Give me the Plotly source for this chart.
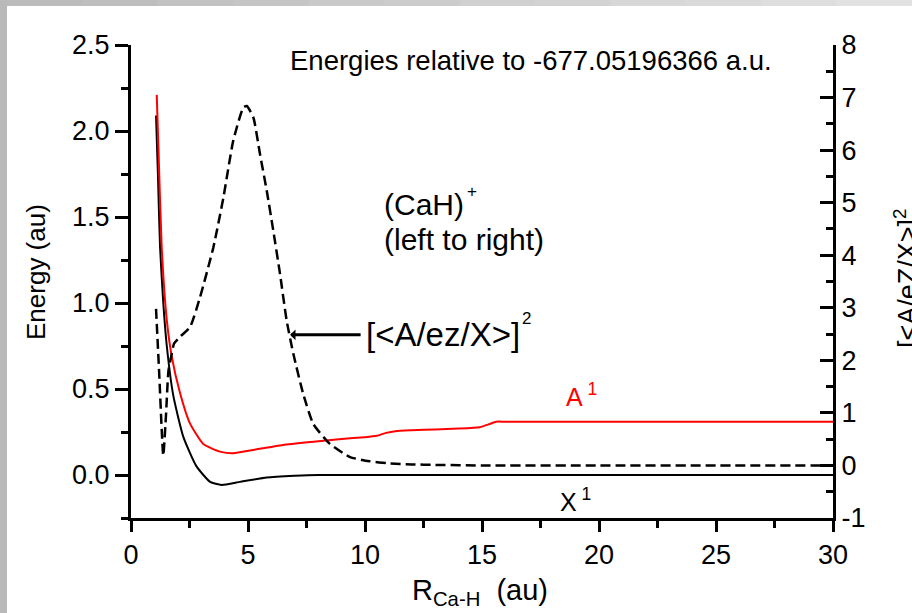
import plotly.graph_objects as go

# ---- data ----
r_A = [1.1, 1.17, 1.31, 1.53, 1.74, 2.09, 2.52, 3.09, 3.8, 4.37, 5.23, 6.5, 7.9, 9.0, 10.0, 10.5, 10.9, 11.3, 12, 13, 14, 14.9, 15.3, 15.6, 16, 20, 25, 30]
e_A = [2.21, 1.91, 1.33, 0.90, 0.69, 0.48, 0.30, 0.18, 0.136, 0.126, 0.146, 0.175, 0.195, 0.21, 0.22, 0.228, 0.245, 0.255, 0.26, 0.265, 0.27, 0.278, 0.295, 0.31, 0.31, 0.31, 0.31, 0.31]

r_X = [1.07, 1.15, 1.24, 1.38, 1.53, 1.81, 2.24, 2.8, 3.38, 3.87, 4.66, 5.8, 7, 8, 10, 15, 20, 30]
e_X = [2.09, 1.75, 1.33, 1.0, 0.75, 0.46, 0.22, 0.05, -0.04, -0.058, -0.04, -0.015, -0.005, 0, 0, 0, 0, 0]

r_D = [1.07, 1.2, 1.38, 1.5, 1.6, 1.74, 1.84, 2.1, 2.52, 2.95, 3.52, 3.95, 4.37, 4.8, 4.95, 5.23, 5.51, 5.8, 6.08, 6.37, 6.65, 6.94, 7.36, 7.79, 8.5, 9.36, 10.2, 11, 12, 13, 15, 20, 25, 30]
d_D = [2.98, 1.8, 0.19, 1.0, 1.8, 2.12, 2.32, 2.45, 2.63, 3.2, 4.15, 5.1, 6.18, 6.81, 6.84, 6.62, 5.93, 5.23, 4.47, 3.64, 2.76, 2.12, 1.36, 0.79, 0.41, 0.16, 0.08, 0.04, 0.02, 0.01, 0, 0, 0, 0]

x_ticks = [0, 5, 10, 15, 20, 25, 30]
y_ticks = [0.0, 0.5, 1.0, 1.5, 2.0, 2.5]
y2_ticks = [-1, 0, 1, 2, 3, 4, 5, 6, 7, 8]

FONT = "Liberation Sans, Arial, sans-serif"

fig = go.Figure()
fig.add_trace(go.Scatter(x=r_X, y=e_X, mode="lines", line=dict(color="black", width=2, shape="spline", smoothing=0.5), showlegend=False))
fig.add_trace(go.Scatter(x=r_A, y=e_A, mode="lines", line=dict(color="#ff0000", width=2, shape="spline", smoothing=0.5), showlegend=False))
fig.add_trace(go.Scatter(x=r_D, y=d_D, mode="lines", yaxis="y2", line=dict(color="black", width=2.5, dash="10px,5px", shape="spline", smoothing=0.5), showlegend=False))

W, H = 912, 613
L, R, T, B = 131, 79, 45, 95
pw, ph = W - L - R, H - T - B

def px2paper_x(px):
    return (px - L) / pw

def py2paper_y(py):
    return (H - B - py) / ph

shapes = []
# left gray strip
shapes.append(dict(type="rect", xref="paper", yref="paper", x0=px2paper_x(0), x1=px2paper_x(7), y0=py2paper_y(H), y1=py2paper_y(0), fillcolor="#b9b9b9", line=dict(width=0), layer="below"))
# top gray gradient strip
n = 12
for i in range(n):
    c = int(0xbb + (0xe2 - 0xbb) * i / (n - 1))
    shapes.append(dict(type="rect", xref="paper", yref="paper", x0=px2paper_x(7 + i * (W - 7) / n), x1=px2paper_x(7 + (i + 1) * (W - 7) / n + 1), y0=py2paper_y(6), y1=py2paper_y(0), fillcolor=f"rgb({c},{c},{c})", line=dict(width=0), layer="below"))

def txt(text, px, py, size, color="black", anchor="left", angle=0):
    return dict(text=text, xref="paper", yref="paper", x=px2paper_x(px), y=py2paper_y(py),
                xanchor=anchor, yanchor="middle", textangle=angle, showarrow=False,
                font=dict(size=size, family=FONT, color=color))

annotations = [
    txt("Energies relative to -677.05196366 a.u.", 288, 60, 27.5),
    txt("(CaH)", 382, 205, 30),
    txt("+", 465, 192, 17),
    txt("(left to right)", 382, 239, 30),
    dict(text="", x=6.8, y=0.815, xref="x", yref="y", ax=72, ay=0, axref="pixel", ayref="pixel", showarrow=True, arrowhead=1, arrowsize=0.6, arrowwidth=3, arrowcolor="black"),
    txt("[&lt;A/ez/X&gt;]", 364, 334, 33),
    txt("2", 520, 318, 17),
    txt("A<sup> 1</sup>", 564, 395, 25, color="#ff0000"),
    txt("X<sup> 1</sup>", 558, 500, 25),
    txt("R<sub>Ca-H</sub>  (au)", 410, 592, 29),
    txt("Energy (au)", 36, 272, 26, anchor="center", angle=-90),
    txt("[&lt;A/eZ/X&gt;]<sup>2</sup>", 906, 278, 27, anchor="center", angle=-90),
]

axis_common = dict(showgrid=False, zeroline=False, showline=True, linecolor="black", linewidth=3,
                   tickcolor="black", tickwidth=3, tickfont=dict(size=27, family=FONT, color="black"))

fig.update_layout(
    width=W, height=H,
    margin=dict(l=L, r=R, t=T, b=B),
    paper_bgcolor="white", plot_bgcolor="white",
    shapes=shapes, annotations=annotations,
    xaxis=dict(range=[0, 30], tickvals=x_ticks, ticks="outside", ticklen=11,
               minor=dict(dtick=2.5, tick0=0, ticks="outside", ticklen=7, tickwidth=3, tickcolor="black"),
               **axis_common),
    yaxis=dict(range=[-0.25, 2.5], tickvals=y_ticks, ticktext=[f"{v:.1f}" for v in y_ticks], ticks="outside", ticklen=13,
               minor=dict(dtick=0.25, tick0=0, ticks="outside", ticklen=7, tickwidth=3, tickcolor="black"),
               **axis_common),
    yaxis2=dict(range=[-1, 8], tickvals=y2_ticks, ticktext=[str(v) for v in y2_ticks], overlaying="y", side="right", ticks="inside", ticklen=13,
                minor=dict(dtick=0.5, tick0=0, ticks="inside", ticklen=7, tickwidth=3, tickcolor="black"),
                **axis_common),
)

fig.write_html("out.html")
